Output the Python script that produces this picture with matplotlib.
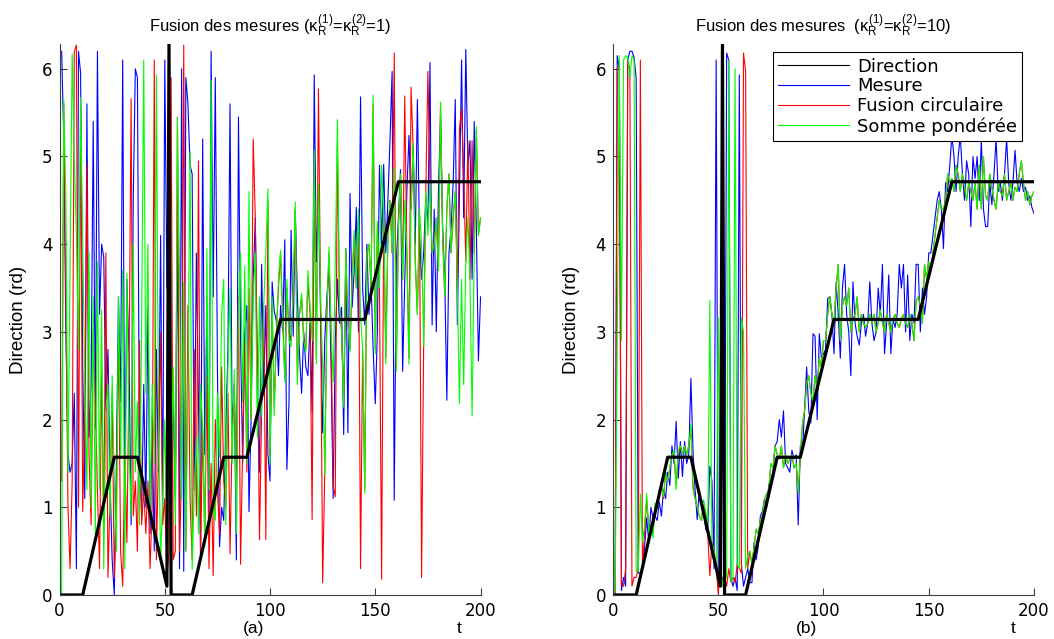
import numpy as np
import matplotlib
matplotlib.use("Agg")
from matplotlib import pyplot as plt
from matplotlib.lines import Line2D

plt.rcParams['font.family'] = ['Liberation Sans', 'DejaVu Sans']
plt.rcParams['mathtext.fontset'] = 'custom'
plt.rcParams['mathtext.rm'] = 'Liberation Sans'
plt.rcParams['mathtext.it'] = 'Liberation Sans'

###################### data ##################################################
t = np.arange(1, 201)

# direction (piecewise linear, knots only)
dir_t = [0, 11, 26, 37, 51, 52, 53, 63, 78, 89, 105, 145, 161, 200]
dir_v = [0, 0, np.pi/2, np.pi/2, 0.1, 2*np.pi, 0, 0, np.pi/2, np.pi/2, np.pi, np.pi, 3*np.pi/2, 3*np.pi/2]

# (a) kappa = 1
mesure_a = [6.2, 5.2, 3.0, 1.6, 1.4, 1.5, 2.3, 0.3, 6.2, 5.95, 2.6, 1.1, 5.6, 1.8, 2.4, 5.4, 1.9, 6.2, 3.2, 4.0,
            3.85, 2.1, 2.8, 1.3, 0.4, 0.0, 1.5, 3.4, 2.2, 6.1, 1.2, 3.6, 2.7, 0.8, 4.5, 6.0, 5.9, 1.5, 0.9, 2.4,
            1.0, 3.3, 0.7, 1.9, 0.5, 2.8, 1.4, 4.1, 0.9, 6.1, 3.5, 6.05, 0.6, 2.3, 1.1, 4.4, 0.3, 6.0, 0.27, 5.9,
            5.6, 4.9, 4.8, 1.2, 3.9, 2.2, 0.4, 5.2, 1.6, 3.2, 0.9, 6.2, 3.4, 5.9, 2.6, 0.55, 1.0, 0.85, 1.9, 2.8,
            5.6, 1.8, 2.4, 0.4, 5.45, 2.9, 1.5, 3.0, 3.3, 0.95, 2.0, 3.6, 4.3, 2.2, 1.4, 3.77, 2.4, 3.3, 1.6, 1.3,
            3.57, 3.24, 3.12, 2.5, 3.3, 3.0, 4.05, 1.43, 2.2, 4.16, 2.95, 4.38, 3.4, 2.75, 2.3, 3.0, 2.6, 2.5, 3.1, 2.08,
            5.93, 3.8, 4.55, 3.2, 1.85, 2.9, 3.4, 3.73, 2.6, 1.1, 2.9, 3.6, 3.1, 3.28, 1.83, 3.95, 1.85, 4.58, 3.28, 3.7,
            4.42, 3.0, 5.68, 3.5, 3.08, 4.0, 3.2, 3.57, 2.8, 2.18, 3.0, 4.9, 4.0, 4.91, 3.9, 4.5, 5.2, 5.97, 1.08, 3.8,
            4.3, 4.85, 2.55, 3.6, 4.6, 5.24, 4.4, 5.12, 4.0, 5.65, 4.1, 3.6, 3.9, 4.55, 4.2, 6.07, 3.08, 4.4, 3.0, 4.6,
            5.44, 4.2, 3.6, 2.22, 3.9, 4.18, 4.7, 5.65, 3.08, 4.6, 6.1, 4.3, 6.22, 4.9, 5.18, 3.6, 5.4, 4.2, 2.67, 3.4]
fusion_a = [1.3, 5.6, 3.4, 1.0, 0.3, 1.3, 6.2, 6.27, 1.0, 5.6, 0.95, 2.0, 4.9, 1.6, 0.8, 3.0, 2.2, 1.2, 0.3, 2.6,
            0.7, 3.9, 0.2, 1.1, 2.3, 0.2, 1.0, 3.0, 0.5, 0.1, 1.6, 0.6, 2.5, 5.66, 0.9, 1.3, 0.5, 2.9, 0.8, 1.2,
            0.7, 1.3, 0.3, 1.0, 6.1, 0.4, 1.6, 3.0, 0.8, 1.1, 0.2, 0.5, 5.9, 0.4, 0.5, 5.45, 0.5, 1.4, 6.27, 0.5,
            3.3, 1.1, 0.4, 2.8, 0.9, 4.95, 0.5, 1.9, 0.6, 2.5, 0.3, 1.5, 0.22, 2.0, 1.2, 0.7, 2.6, 1.3, 1.0, 2.3,
            0.47, 1.85, 2.4, 1.2, 3.4, 0.35, 1.7, 2.9, 1.4, 3.5, 2.0, 5.2, 4.3, 2.7, 0.63, 2.1, 3.3, 0.63, 4.5, 1.6,
            3.3, 2.14, 3.0, 3.5, 3.9, 3.2, 2.5, 3.5, 3.0, 2.9, 3.4, 4.4, 2.5, 3.2, 3.4, 2.9, 2.8, 3.6, 3.2, 0.86,
            4.9, 2.7, 5.77, 3.4, 0.14, 1.4, 3.2, 3.9, 3.0, 1.24, 1.12, 5.16, 3.3, 3.0, 2.2, 3.9, 3.1, 2.8, 3.6, 4.1,
            3.5, 4.3, 0.3, 2.8, 1.2, 3.9, 4.0, 3.5, 5.6, 2.8, 4.2, 3.5, 0.18, 4.3, 2.7, 4.1, 4.5, 3.9, 6.18, 2.6,
            4.2, 4.8, 3.6, 5.69, 3.9, 2.7, 5.79, 5.1, 3.8, 3.2, 4.4, 0.2, 2.9, 4.6, 5.97, 4.7, 3.9, 4.0, 4.3, 3.7,
            5.6, 4.1, 3.4, 4.4, 4.8, 3.9, 4.3, 4.6, 3.5, 5.32, 5.54, 4.79, 3.8, 5.18, 3.6, 5.18, 3.9, 5.3, 4.1, 4.3]
somme_a = [0.0, 5.65, 4.5, 1.4, 3.75, 6.17, 5.0, 4.1, 2.8, 5.67, 4.0, 2.45, 1.2, 3.9, 1.0, 3.4, 0.7, 3.8, 1.2, 3.25,
           0.3, 2.1, 2.4, 0.9, 2.5, 1.3, 0.5, 3.4, 1.6, 3.7, 0.3, 3.67, 1.7, 0.9, 4.0, 1.4, 2.2, 0.8, 3.1, 6.1,
           2.3, 4.0, 0.9, 2.4, 1.5, 5.93, 2.0, 0.4, 1.1, 2.0, 0.6, 5.93, 1.4, 2.6, 0.8, 5.44, 3.65, 1.1, 3.57, 0.5,
           2.5, 5.05, 0.29, 1.2, 1.8, 0.7, 2.4, 1.9, 0.55, 3.95, 1.2, 5.87, 1.0, 0.85, 2.3, 1.57, 3.2, 3.6, 0.8, 2.6,
           3.5, 1.5, 2.57, 0.7, 3.3, 3.9, 2.2, 3.75, 1.5, 4.6, 2.0, 3.4, 3.9, 1.8, 3.4, 2.04, 3.3, 3.93, 4.63, 1.49,
           3.4, 2.04, 2.9, 3.6, 3.93, 3.1, 2.43, 3.6, 2.9, 2.83, 3.5, 4.48, 2.4, 3.2, 3.44, 2.9, 2.77, 3.7, 3.3, 2.9,
           5.07, 2.63, 4.69, 3.4, 2.6, 1.37, 3.2, 3.97, 3.0, 2.43, 3.8, 5.42, 3.3, 3.0, 2.14, 3.95, 3.1, 2.77, 3.6, 4.16,
           3.5, 4.4, 3.2, 2.8, 1.16, 3.9, 4.0, 3.5, 5.7, 2.75, 4.26, 3.5, 4.9, 4.3, 2.63, 4.1, 4.5, 3.9, 4.87, 2.55,
           4.2, 4.8, 3.6, 4.5, 3.9, 2.63, 4.4, 5.16, 3.8, 3.2, 4.4, 4.0, 2.83, 4.6, 4.1, 4.69, 3.9, 4.0, 4.3, 3.7,
           5.62, 4.1, 3.4, 4.4, 4.8, 3.9, 4.3, 4.6, 3.5, 2.18, 3.6, 2.4, 3.8, 4.3, 3.6, 2.04, 3.9, 5.34, 4.1, 4.3]

# (b) kappa = 10
mesure_b = [0.0, 6.15, 6.0, 0.05, 0.2, 0.1, 6.1, 6.2, 6.2, 6.13, 5.9, 0.25, 0.25, 0.3, 0.55, 0.88, 0.6, 1.0, 0.88, 0.9,
            0.85, 1.06, 0.9, 1.2, 1.1, 1.4, 1.25, 1.7, 1.5, 1.98, 1.33, 1.75, 1.35, 1.75, 1.5, 1.6, 2.47, 1.65, 1.2, 0.86,
            1.2, 1.04, 1.08, 0.75, 0.71, 1.47, 1.3, 0.3, 6.1, 0.2, 0.1, 0.2, 0.1, 6.18, 6.1, 0.2, 0.1, 0.2, 0.05, 5.93,
            0.35, 0.1, 0.2, 0.3, 0.14, 0.14, 0.6, 0.4, 0.55, 0.9, 0.95, 1.1, 1.0, 1.25, 1.3, 1.4, 1.7, 1.75, 2.0, 1.8,
            2.1, 1.5, 1.45, 1.4, 1.65, 1.55, 1.6, 0.8, 1.7, 1.65, 2.1, 2.6, 2.1, 1.96, 2.98, 2.95, 2.0, 2.98, 2.7, 2.75,
            2.8, 3.38, 3.4, 3.2, 2.75, 3.57, 3.2, 2.7, 3.5, 3.77, 3.2, 3.0, 2.5, 3.57, 3.1, 2.95, 2.85, 3.1, 3.2, 2.95,
            3.1, 3.57, 3.1, 2.9, 3.0, 3.5, 3.2, 3.77, 2.75, 3.1, 3.65, 2.75, 3.15, 3.05, 3.2, 3.77, 3.5, 3.77, 3.0, 3.65,
            2.9, 3.2, 3.1, 3.77, 3.77, 3.0, 3.5, 3.2, 3.4, 3.9, 3.9, 4.1, 4.3, 4.5, 4.6, 4.4, 3.95, 4.7, 4.6, 4.9,
            5.24, 5.0, 4.6, 5.0, 5.24, 4.8, 4.5, 4.95, 4.8, 4.2, 5.0, 4.75, 5.0, 4.5, 5.2, 4.4, 4.2, 4.2, 4.7, 4.45,
            4.8, 5.2, 4.6, 4.7, 4.5, 4.8, 5.2, 4.7, 4.5, 4.7, 5.07, 4.7, 4.6, 4.75, 4.6, 4.65, 4.5, 4.55, 4.42, 4.35]
somme_b = [0.0, 2.87, 6.15, 2.9, 6.1, 6.15, 6.13, 5.9, 6.15, 6.1, 0.27, 0.27, 1.15, 0.6, 0.8, 1.16, 0.72, 0.8, 0.65, 1.05,
           0.98, 1.2, 1.25, 1.12, 1.4, 1.3, 1.45, 1.6, 1.65, 1.2, 1.65, 1.7, 1.6, 1.7, 1.6, 1.7, 1.95, 1.2, 1.1, 1.0,
           0.9, 0.85, 1.08, 0.95, 0.7, 3.36, 0.6, 0.5, 0.3, 3.16, 0.4, 0.1, 0.3, 0.2, 6.1, 0.15, 0.2, 6.0, 0.35, 0.3,
           3.16, 3.0, 0.3, 0.45, 0.5, 0.35, 0.55, 0.75, 0.7, 0.85, 0.9, 1.1, 1.15, 1.2, 1.5, 1.45, 1.7, 1.6, 1.55, 1.7,
           1.45, 1.6, 1.5, 1.55, 1.6, 1.45, 1.5, 1.16, 1.6, 1.95, 2.1, 2.4, 2.5, 2.3, 2.2, 2.5, 2.35, 2.7, 2.6, 2.9,
           2.9, 3.2, 3.4, 3.2, 3.1, 3.5, 3.77, 2.9, 3.3, 3.4, 3.3, 3.5, 3.0, 3.15, 3.2, 3.4, 3.0, 3.2, 3.1, 3.05,
           3.1, 3.2, 3.1, 3.2, 3.0, 3.1, 3.25, 3.1, 3.0, 3.2, 3.1, 3.0, 3.15, 3.2, 3.1, 3.05, 3.15, 3.2, 3.1, 3.05,
           3.2, 3.1, 2.9, 3.35, 3.4, 3.3, 3.1, 3.77, 3.6, 3.8, 3.7, 3.9, 4.1, 4.3, 4.5, 4.4, 4.4, 4.5, 4.8, 4.7,
           4.75, 4.6, 4.9, 4.8, 4.6, 4.8, 4.65, 4.5, 4.7, 4.6, 4.5, 4.7, 4.4, 4.9, 4.4, 5.0, 4.55, 4.5, 4.8, 4.65,
           4.5, 4.4, 4.7, 4.6, 4.55, 4.8, 4.5, 4.6, 4.7, 4.5, 4.65, 4.6, 4.8, 4.95, 4.7, 4.5, 4.6, 4.45, 4.55, 4.6]
# circular fusion: visible part up to t=65, afterwards it lies under the weighted sum
fusion_b = [0.0, 6.0, 6.03, 0.12, 0.1, 0.3, 6.1, 6.0, 0.1, 0.2, 0.2, 0.3, 6.1, 0.3, 0.7, 1.1, 0.75, 0.8, 0.7, 1.0,
            1.0, 1.2, 1.25, 1.1, 1.4, 1.3, 1.45, 1.6, 1.6, 1.25, 1.6, 1.7, 1.6, 1.7, 1.6, 1.7, 1.9, 1.25, 1.1, 1.0,
            0.9, 0.85, 1.05, 0.95, 0.7, 0.22, 0.6, 0.5, 0.3, 0.02, 0.3, 0.15, 0.2, 0.1, 0.3, 0.15, 0.2, 0.14, 0.35, 0.3,
            0.25, 6.18, 5.97, 0.3, 0.5] + somme_b[65:]

titles = [r'Fusion des mesures ($\kappa_R^{(1)}$=$\kappa_R^{(2)}$=1)',
          r'Fusion des mesures  ($\kappa_R^{(1)}$=$\kappa_R^{(2)}$=10)']
panel_labels = ['(a)', '(b)']
legend_labels = ['Direction', 'Mesure', 'Fusion circulaire', 'Somme pondérée']

######################## figure ##########################################
fig = plt.figure(figsize=(10.54, 6.39), dpi=100)
ax_a = fig.add_axes([0.0565, 0.0689, 0.3994, 0.8623])
ax_b = fig.add_axes([0.5816, 0.0689, 0.3994, 0.8623])

for ax, mes, fus, som, title, plab in [(ax_a, mesure_a, fusion_a, somme_a, titles[0], panel_labels[0]),
                                        (ax_b, mesure_b, fusion_b, somme_b, titles[1], panel_labels[1])]:
    ax.plot(t, mes, color='b', lw=0.8)
    ax.plot(t, fus, color='r', lw=0.8)
    ax.plot(t, som, color='#00ff00', lw=0.8)
    ax.plot(dir_t, dir_v, color='k', lw=2.3)
    ax.set_xlim(0, 200)
    ax.set_ylim(0, 2*np.pi)
    ax.set_xticks([0, 50, 100, 150, 200])
    ax.set_yticks(range(7))
    ax.spines['top'].set_visible(False)
    ax.spines['right'].set_visible(False)
    for s in ['left', 'bottom']:
        ax.spines[s].set_color('#404040')
        ax.spines[s].set_linewidth(0.8)
    ax.tick_params(direction='in', length=5, width=0.8, color='#404040', labelsize=12, pad=5)
    for lab in ax.get_xticklabels() + ax.get_yticklabels():
        lab.set_family('DejaVu Sans')
    ax.set_title(title, fontsize=12, pad=9)
    ax.set_ylabel('Direction (rd)', fontsize=13.5)
    ax.yaxis.set_label_coords(-0.078, 0.5)
    ax.text(0.46, -0.06, plab, transform=ax.transAxes, ha='center', va='center', fontsize=12.5)
    ax.text(0.95, -0.06, 't', transform=ax.transAxes, ha='center', va='center', fontsize=12.5)

handles = [Line2D([], [], color='k', lw=0.8), Line2D([], [], color='b', lw=0.8),
           Line2D([], [], color='r', lw=0.8), Line2D([], [], color='#00ff00', lw=0.8)]
leg = ax_b.legend(handles, legend_labels, loc='upper right', bbox_to_anchor=(0.972, 0.985),
                  borderaxespad=0, fancybox=False, framealpha=1, edgecolor='k',
                  handlelength=3.9, handletextpad=0.45, labelspacing=0.1, borderpad=0.3,
                  prop={'family': 'DejaVu Sans', 'size': 13})
leg.get_frame().set_linewidth(0.8)

plt.savefig('out.png', dpi=100)
